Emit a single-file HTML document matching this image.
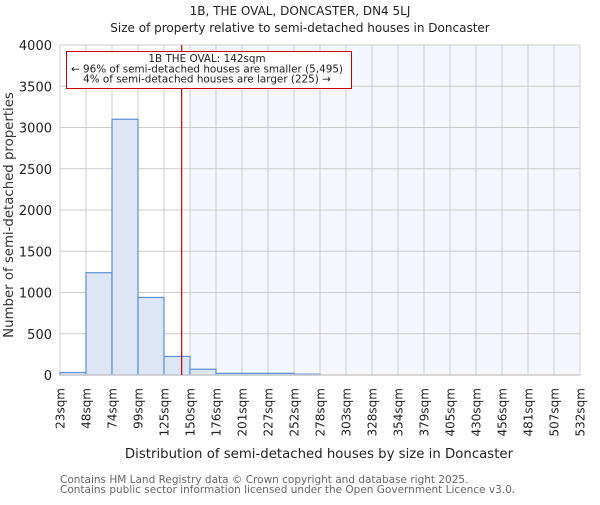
<!DOCTYPE html>
<html><head><meta charset="utf-8"><style>
body{margin:0;background:#fff}
svg text{font-family:"DejaVu Sans","Liberation Sans",sans-serif}
</style></head><body>
<svg id="chart" width="600" height="500" xmlns="http://www.w3.org/2000/svg">
<rect width="600" height="500" fill="#fff"/>
<text x="300" y="15" font-size="12" text-anchor="middle" fill="#222">1B, THE OVAL, DONCASTER, DN4 5LJ</text>
<text x="300" y="32" font-size="12" text-anchor="middle" fill="#222">Size of property relative to semi-detached houses in Doncaster</text>
<g id="plot"></g>
<text x="319" y="458" font-size="13.3" text-anchor="middle" fill="#222">Distribution of semi-detached houses by size in Doncaster</text>
<text transform="translate(13,215) rotate(-90)" font-size="13.3" text-anchor="middle" fill="#333">Number of semi-detached properties</text>
<text x="60" y="483" font-size="10.5" fill="#666">Contains HM Land Registry data © Crown copyright and database right 2025.</text>
<text x="60" y="493" font-size="10.5" fill="#666">Contains public sector information licensed under the Open Government Licence v3.0.</text>
</svg>
<script>
const binLabels=["23sqm","48sqm","74sqm","99sqm","125sqm","150sqm","176sqm","201sqm","227sqm","252sqm","278sqm","303sqm","328sqm","354sqm","379sqm","405sqm","430sqm","456sqm","481sqm","507sqm","532sqm"];
const binStarts=[23,48,74,99,125,150,176,201,227,252,278,303,328,354,379,405,430,456,481,507,532];
const counts=[30,1240,3100,940,225,70,20,20,20,10,0,0,0,0,0,0,0,0,0,0];
const yTicks=[0,500,1000,1500,2000,2500,3000,3500,4000];
const propertySize=142;
const NS="http://www.w3.org/2000/svg";
const L=60,R=580,T=45,B=375,YMAX=4000;
const n=counts.length;
const bw=(R-L)/n;
function xi(i){return L+i*bw;}
function xv(v){let i=0;while(i<n-1&&v>=binStarts[i+1])i++;return xi(i)+(v-binStarts[i])/(binStarts[i+1]-binStarts[i])*bw;}
function y(v){return B-(v/YMAX)*(B-T);}
const g=document.getElementById('plot');
function mk(t,a){const e=document.createElementNS(NS,t);for(const k in a)e.setAttribute(k,a[k]);g.appendChild(e);return e;}
let si=0;while(si<n&&binStarts[si+1]<=propertySize)si++;
let sh=mk('rect',{x:xi(si+1),y:T,width:R-xi(si+1),height:B-T,fill:'#f4f7fd'});


for(const v of yTicks){
 let l=mk('line',{x1:L,x2:R,y1:y(v),y2:y(v),stroke:'#cccccc','stroke-width':1});
 
 
 let t=mk('text',{x:L-8,y:y(v)+5,'font-size':13,'text-anchor':'end',fill:'#222'});
 t.textContent=v;
 
 
}
for(let i=0;i<=n;i++){
 let l=mk('line',{x1:xi(i),x2:xi(i),y1:T,y2:B,stroke:'#cccccc','stroke-width':1});
 
 
 let t=mk('text',{transform:`translate(${xi(i)+4.5},388) rotate(-90)`,'font-size':12,'text-anchor':'end',fill:'#222'});
 t.textContent=binLabels[i];
 
 
}
for(let i=0;i<n;i++){
 if(counts[i]<=0)continue;
 let r=mk('rect',{x:xi(i),y:y(counts[i]),width:bw,height:B-y(counts[i]),fill:'#dce6f4',stroke:'#5b8fd6','stroke-width':1.2});
 
 
}
let ax=mk('line',{x1:L,x2:R,y1:B,y2:B,stroke:'#cccccc','stroke-width':1.5});


let px=xv(propertySize);
let ml=mk('line',{x1:px,x2:px,y1:T,y2:B,stroke:'#cc0000','stroke-width':1.2});


let box=mk('rect',{x:66.5,y:51.5,width:285,height:37,fill:'#fff',stroke:'#cc0000','stroke-width':1});


const ann=["1B THE OVAL: 142sqm","← 96% of semi-detached houses are smaller (5,495)","4% of semi-detached houses are larger (225) →"];
ann.forEach((s,k)=>{let t=mk('text',{x:207,y:62+k*10.3,'font-size':10.4,'text-anchor':'middle',fill:'#222'});t.textContent=s;
 
 });
</script>
</body></html>
